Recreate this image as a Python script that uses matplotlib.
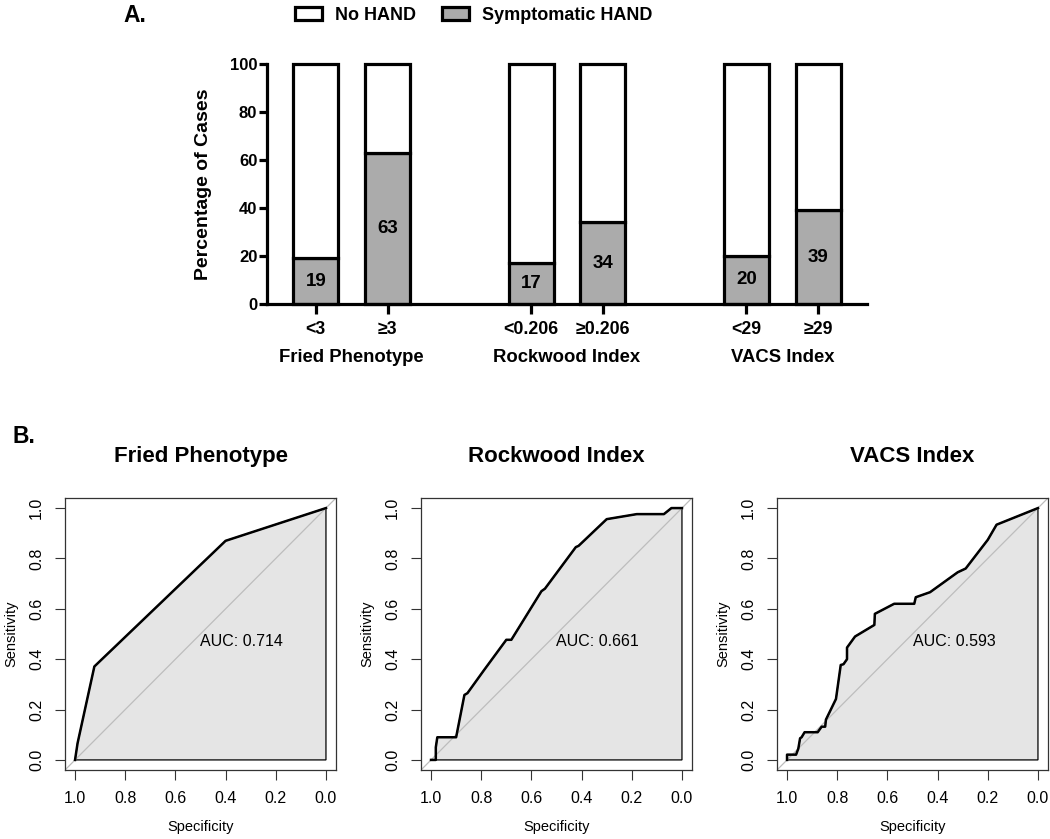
import matplotlib
matplotlib.use('Agg')
import matplotlib.pyplot as plt
from matplotlib.patches import Patch
from matplotlib.transforms import blended_transform_factory

plt.rcParams['font.family'] = ['Liberation Sans', 'DejaVu Sans']

# panel A data
groups = ['Fried Phenotype', 'Rockwood Index', 'VACS Index']
cut_labels = ['<3', '\u22653', '<0.206', '\u22650.206', '<29', '\u226529']
hand_pct = [19, 63, 17, 34, 20, 39]
bar_pos = [0, 1, 3, 4, 6, 7]

# panel B data
fried_spec = [1.0, 0.99, 0.923, 0.40, 0.0]
fried_sens = [0.0, 0.066, 0.371, 0.87, 1.0]

rock_spec = [1.0, 0.981, 0.981, 0.975, 0.90, 0.867, 0.855, 0.79, 0.70, 0.68,
             0.56, 0.546, 0.423, 0.412, 0.30, 0.18, 0.072, 0.042, 0.0]
rock_sens = [0.0, 0.0, 0.05, 0.09, 0.09, 0.258, 0.265, 0.355, 0.477, 0.477,
             0.67, 0.68, 0.845, 0.85, 0.956, 0.976, 0.976, 1.0, 1.0]

vacs_spec = [1.0, 1.0, 0.964, 0.955, 0.948, 0.942, 0.93, 0.878, 0.862, 0.848,
             0.845, 0.805, 0.786, 0.775, 0.761, 0.761, 0.729, 0.652, 0.65, 0.573,
             0.493, 0.487, 0.43, 0.32, 0.288, 0.20, 0.165, 0.0]
vacs_sens = [0.0, 0.021, 0.021, 0.045, 0.086, 0.09, 0.11, 0.11, 0.132, 0.132,
             0.16, 0.242, 0.377, 0.38, 0.40, 0.446, 0.49, 0.536, 0.58, 0.62,
             0.62, 0.646, 0.666, 0.745, 0.76, 0.874, 0.934, 1.0]

roc_titles = ['Fried Phenotype', 'Rockwood Index', 'VACS Index']
roc_auc = ['0.714', '0.661', '0.593']

W, H = 1050, 839
fig = plt.figure(figsize=(W / 100, H / 100), dpi=100)

# ---- A. stacked percentage bars
ax = fig.add_axes([267 / W, 1 - 304 / H, 600 / W, 240 / H])
grey = '#ababab'
lw = 2.3
no_hand = [100 - v for v in hand_pct]
ax.bar(bar_pos, hand_pct, width=0.63, color=grey, edgecolor='black', linewidth=lw, clip_on=False, zorder=3)
ax.bar(bar_pos, no_hand, bottom=hand_pct, width=0.63, color='white', edgecolor='black', linewidth=lw, clip_on=False, zorder=3)
for x, v in zip(bar_pos, hand_pct):
    ax.text(x, v / 2, str(v), ha='center', va='center', fontsize=13.5, fontweight='bold', zorder=4)

ax.set_xlim(-0.68, 7.68)
ax.set_ylim(0, 100)
ax.set_yticks([0, 20, 40, 60, 80, 100])
ax.set_xticks(bar_pos)
ax.set_xticklabels(cut_labels, fontsize=12.8, fontweight='bold')
for lab in ax.get_yticklabels():
    lab.set_fontweight('bold')
    lab.set_fontsize(12)
ax.tick_params(axis='y', length=6, width=lw, pad=1)
ax.tick_params(axis='x', length=7, width=lw, pad=5)
for s in ['top', 'right']:
    ax.spines[s].set_visible(False)
ax.spines['left'].set_linewidth(lw)
ax.spines['bottom'].set_linewidth(lw)
ax.spines['bottom'].set_zorder(5)

trans = blended_transform_factory(ax.transData, ax.transAxes)
for i, g in enumerate(groups):
    ax.text(bar_pos[2 * i] + 0.5, -0.225, g, transform=trans, ha='center', va='center',
            fontsize=13.3, fontweight='bold')

fig.text(204 / W, 1 - 184 / H, 'Percentage of Cases', rotation=90, ha='center', va='center',
         fontsize=14, fontweight='bold')

handles = [Patch(facecolor='white', edgecolor='black', linewidth=lw, label='No HAND'),
           Patch(facecolor=grey, edgecolor='black', linewidth=lw, label='Symptomatic HAND')]
leg = fig.legend(handles=handles, loc='center', bbox_to_anchor=(474 / W, 1 - 15 / H), ncol=2,
                 frameon=False, prop={'weight': 'bold', 'size': 13}, handlelength=1.45,
                 handleheight=0.7, handletextpad=0.75, columnspacing=1.45)

fig.text(123 / W, 1 - 16 / H, 'A.', ha='left', va='center', fontsize=16.5, fontweight='bold')
fig.text(12 / W, 1 - 436 / H, 'B.', ha='left', va='center', fontsize=16.5, fontweight='bold')

# ---- B. ROC curves
lefts = [65, 421, 777]
curves = [(fried_spec, fried_sens), (rock_spec, rock_sens), (vacs_spec, vacs_sens)]
for left, (sp, se), title, auc in zip(lefts, curves, roc_titles, roc_auc):
    rx = fig.add_axes([left / W, 1 - 770 / H, 271 / W, 272 / H])
    rx.set_xlim(1.04, -0.04)
    rx.set_ylim(-0.04, 1.04)
    poly_x = list(sp) + [0.0, 1.0]
    poly_y = list(se) + [0.0, 0.0]
    rx.fill(poly_x, poly_y, facecolor='#e5e5e5', edgecolor='black', linewidth=0.9, zorder=1)
    rx.axline((1, 0), (0, 1), color='#bdbdbd', linewidth=0.9, zorder=2)
    rx.plot(sp, se, color='black', linewidth=1.8, zorder=3)
    rx.text(0.5, 0.5, 'AUC: ' + auc, ha='left', va='top', fontsize=11.5, zorder=4)
    rx.set_xticks([1.0, 0.8, 0.6, 0.4, 0.2, 0.0])
    rx.set_yticks([0.0, 0.2, 0.4, 0.6, 0.8, 1.0])
    rx.set_xticklabels(['1.0', '0.8', '0.6', '0.4', '0.2', '0.0'], fontsize=11.5)
    rx.set_yticklabels(['0.0', '0.2', '0.4', '0.6', '0.8', '1.0'], fontsize=11.5,
                       rotation=90, va='center')
    rx.tick_params(length=7, width=0.8, color='#333333', pad=8)
    for s in rx.spines.values():
        s.set_linewidth(0.9)
        s.set_color('#333333')
    rx.set_xlabel('Specificity', fontsize=10.5, labelpad=10)
    rx.set_ylabel('Sensitivity', fontsize=10.5, labelpad=8)
    rx.set_title(title, fontsize=16, fontweight='bold', pad=26)

fig.savefig('out.png', dpi=100)
